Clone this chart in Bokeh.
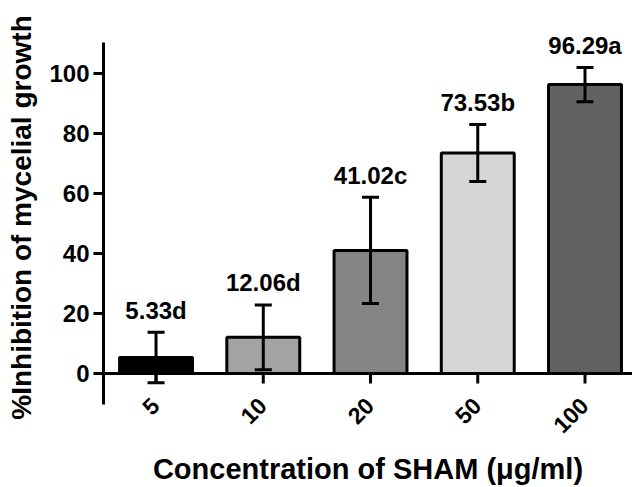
import math
from bokeh.plotting import figure
from bokeh.models import (ColumnDataSource, Whisker, TeeHead, Span, LinearAxis,
                          FixedTicker, Range1d)
from bokeh.core.properties import value
from bokeh.embed import file_html
from bokeh.resources import INLINE

# ---- data ----
concentrations = ["5", "10", "20", "50", "100"]
means = [5.33, 12.06, 41.02, 73.53, 96.29]
sds = [8.4, 10.8, 17.7, 9.5, 5.7]
letters = ["d", "d", "c", "b", "a"]
bar_colors = ["#000000", "#a3a3a3", "#858585", "#d5d5d5", "#626262"]
y_ticks = [0, 20, 40, 60, 80, 100]

FONT = "Liberation Sans"

xs = list(range(len(concentrations)))
src = ColumnDataSource(dict(
    x=xs,
    top=means,
    upper=[m + s for m, s in zip(means, sds)],
    lower=[m - s for m, s in zip(means, sds)],
    color=bar_colors,
    label=[f"{m:.2f}{l}" for m, l in zip(means, letters)],
    cat=concentrations,
))

p = figure(width=632, height=487, output_backend="svg", toolbar_location=None,
           x_range=Range1d(-0.49, 4.443), y_range=Range1d(-20.33, 124.33),
           x_axis_location=None,
           min_border_left=103, min_border_right=0, min_border_top=0,
           min_border_bottom=53)
p.outline_line_color = None
p.grid.visible = False
p.background_fill_color = "white"
p.border_fill_color = "white"

# y axis
ya = p.yaxis[0]
ya.ticker = FixedTicker(ticks=y_ticks)
ya.bounds = (-10.33, 110.3)
ya.axis_line_width = 3
ya.axis_line_color = "black"
ya.major_tick_line_width = 3
ya.major_tick_out = 10
ya.major_tick_in = 0
ya.minor_tick_line_color = None
ya.major_label_text_font = FONT
ya.major_label_text_font_size = "24px"
ya.major_label_text_font_style = "bold"
ya.major_label_text_color = "black"
ya.major_label_standoff = 4
ya.axis_label = "%Inhibition of mycelial growth"
ya.axis_label_text_font = FONT
ya.axis_label_text_font_size = "28px"
ya.axis_label_text_font_style = "bold"
ya.axis_label_text_color = "black"
ya.axis_label_standoff = 9

# x axis title
xa = LinearAxis(ticker=FixedTicker(ticks=[]), axis_line_color=None,
                major_tick_line_color=None, minor_tick_line_color=None,
                axis_label="Concentration of SHAM (\u03bcg/ml)",
                axis_label_text_font=FONT, axis_label_text_font_size="29px",
                axis_label_text_font_style="bold", axis_label_text_color="black",
                axis_label_standoff=18)
p.add_layout(xa, "below")

# bars
p.vbar(x="x", top="top", bottom=0, width=0.68, fill_color="color",
       line_color="black", line_width=3, source=src)

# baseline (x axis line at y=0) and category ticks
p.add_layout(Span(location=0, dimension="width", line_color="black", line_width=3))
p.segment(x0="x", y0=0, x1="x", y1=-3.3, line_color="black", line_width=3, source=src)

# error bars
wh = Whisker(source=src, base="x", upper="upper", lower="lower",
             line_color="black", line_width=3, level="overlay",
             upper_head=TeeHead(size=17, line_width=3, line_color="black"),
             lower_head=TeeHead(size=17, line_width=3, line_color="black"))
p.add_layout(wh)

# value labels
p.text(x="x", y="upper", text="label", source=src, y_offset=-22,
       text_align="center", text_baseline="alphabetic",
       text_font=value(FONT), text_font_size="24px", text_font_style="bold",
       text_color="black")

# rotated category labels
p.text(x="x", y=-9.3, text="cat", source=src, angle=math.pi / 4, x_offset=-1,
       text_align="right", text_baseline="middle",
       text_font=value(FONT), text_font_size="23px", text_font_style="bold",
       text_color="black")

open("out.html", "w").write(file_html(p, INLINE))
